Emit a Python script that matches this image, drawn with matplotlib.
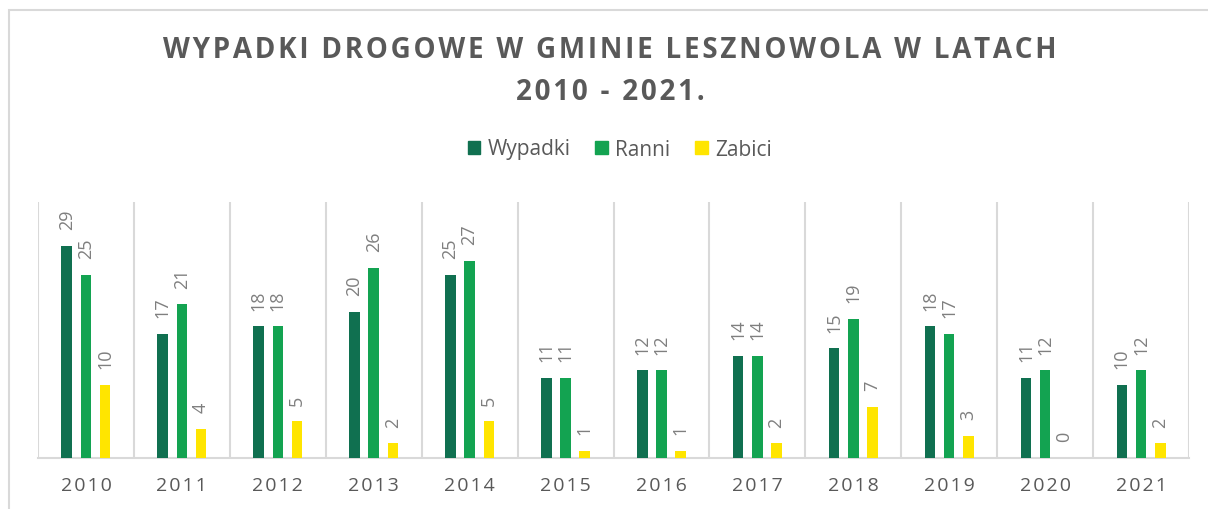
import matplotlib.pyplot as plt
import matplotlib.patches as mpatches
import numpy as np

years = ['2010', '2011', '2012', '2013', '2014', '2015',
         '2016', '2017', '2018', '2019', '2020', '2021']
wypadki = [29, 17, 18, 20, 25, 11, 12, 14, 15, 18, 11, 10]
ranni = [25, 21, 18, 26, 27, 11, 12, 14, 19, 17, 12, 12]
zabici = [10, 4, 5, 2, 5, 1, 1, 2, 7, 3, 0, 2]

series = [('Wypadki', wypadki, '#107050'),
          ('Ranni', ranni, '#13a351'),
          ('Zabici', zabici, '#ffe500')]

GRID = '#d9d9d9'
TXT = '#595959'
FONT = ['Open Sans', 'DejaVu Sans']


def spaced(s):
    # rough letter spacing with hair spaces
    return '\u200a'.join(s)


fig = plt.figure(figsize=(12.08, 5.10), dpi=100)

# chart frame (cut by the image on the right and bottom)
fig.patches.append(mpatches.Rectangle((9 / 1208, -0.05), 1.1, 1 - 11 / 510 + 0.05,
                                      transform=fig.transFigure, fill=False,
                                      edgecolor=GRID, linewidth=1.5))

ax = fig.add_axes([38 / 1208, 1 - 459 / 510, (1189 - 38) / 1208, (459 - 203) / 510])

x = np.arange(len(years))
w = 0.11
offs = [-0.2, 0.0, 0.2]
for (name, vals, col), off in zip(series, offs):
    bars = ax.bar(x + off, vals, width=w, color=col, label=name, zorder=3)
    for b, v in zip(bars, vals):
        ax.annotate(str(v), (b.get_x() + b.get_width() / 2, v),
                    xytext=(0, 12), textcoords='offset points',
                    rotation=90, ha='center', va='bottom',
                    fontsize=13, color='#7f7f7f', family=FONT)

ax.set_xlim(-0.5, len(years) - 0.5)
ax.set_ylim(0, 35)
for b in np.arange(-0.5, len(years), 1.0):
    ax.axvline(b, color=GRID, linewidth=1.5, zorder=1)

for s in ['top', 'right', 'left']:
    ax.spines[s].set_visible(False)
ax.spines['bottom'].set_color(GRID)
ax.spines['bottom'].set_linewidth(1.5)
ax.set_yticks([])
ax.set_xticks(x)
ax.set_xticklabels([spaced(y) for y in years], family=FONT, fontsize=14, color=TXT)
ax.tick_params(axis='x', length=0, pad=13)

fig.text(0.505, 1 - 50 / 510, spaced('WYPADKI DROGOWE W GMINIE LESZNOWOLA W LATACH'),
         ha='center', va='center', fontsize=20, fontweight='bold', color=TXT, family=FONT)
fig.text(0.505, 1 - 92 / 510, spaced('2010 - 2021.'),
         ha='center', va='center', fontsize=20, fontweight='bold', color=TXT, family=FONT)

handles = [mpatches.Patch(color=c, label=n) for n, _, c in series]
fig.legend(handles=handles, loc='center', bbox_to_anchor=(0.513, 1 - 150 / 510),
           ncol=3, frameon=False, prop={'family': FONT, 'size': 15},
           handlelength=0.6, handleheight=0.6, handletextpad=0.35, columnspacing=1.2,
           labelcolor=TXT)

fig.savefig('out.png', dpi=100)
